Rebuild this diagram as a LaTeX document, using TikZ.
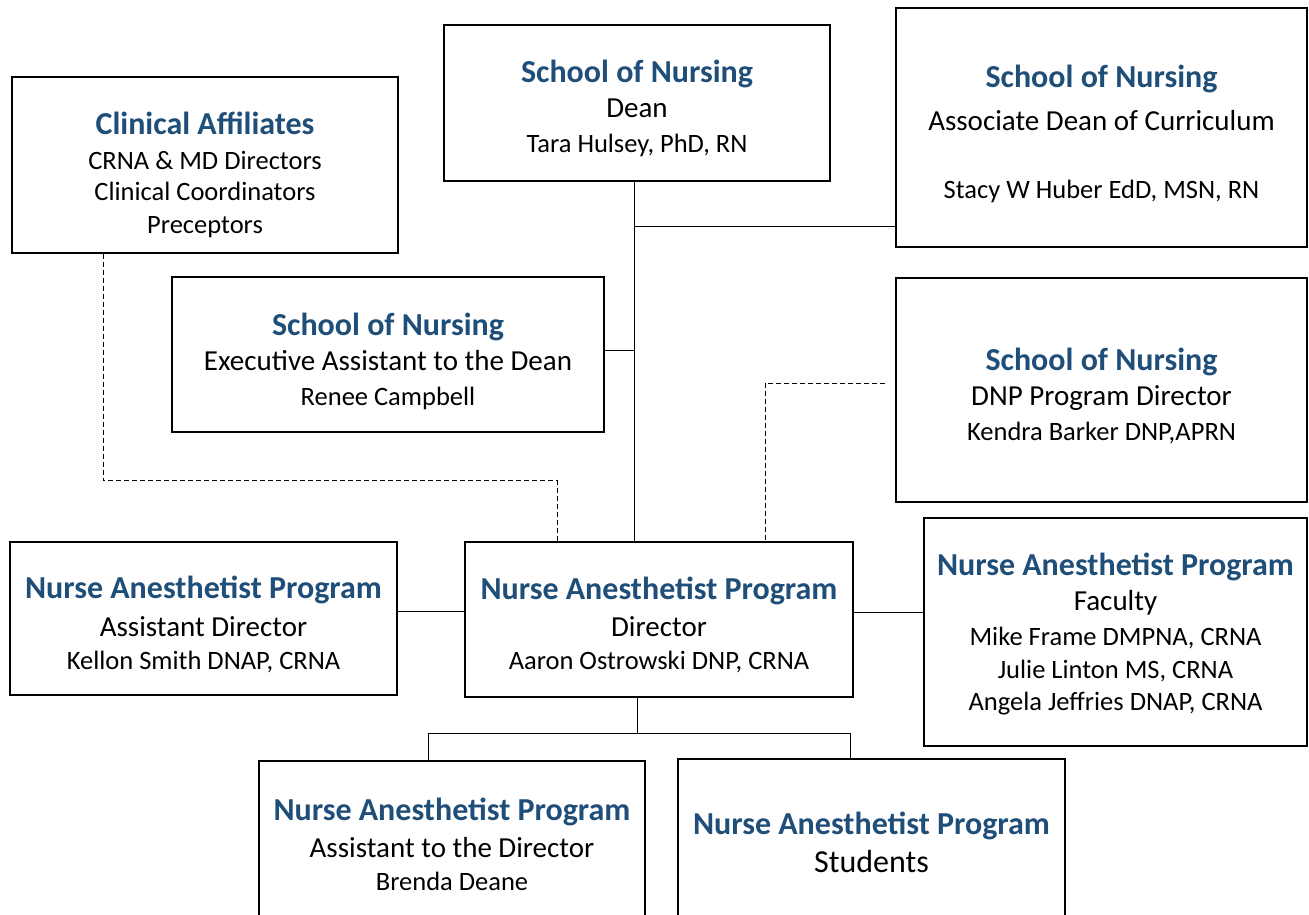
\documentclass[tikz,border=0pt]{standalone}
\usepackage{fontspec}
\setmainfont{Carlito}

\definecolor{headblue}{RGB}{31,78,121}
\newcommand{\unithead}[1]{{\fontsize{32}{38}\selectfont\bfseries\color{headblue}#1}}
\newcommand{\who}[1]{{\fontsize{26.5}{33}\selectfont #1}}

\begin{document}
\begin{tikzpicture}[x=1pt,y=-1pt,
    box/.style={draw,line width=1.4pt,inner sep=0pt},
    lines/.style={align=center,inner sep=0pt,anchor=north,font=\fontsize{29}{35}\selectfont},
    link/.style={line width=0.9pt},
    dashlink/.style={line width=0.9pt,dash pattern=on 5pt off 3pt}]
  \useasboundingbox (0,0) rectangle (1309,915);
  \clip (0,0) rectangle (1309,915);

  % boxes
  \node[box,minimum width=386pt,minimum height=176pt] (clin) at (205,165) {};
  \node[box,minimum width=386pt,minimum height=156pt] (dean) at (637,103) {};
  \node[box,minimum width=411pt,minimum height=239pt] (assoc) at (1101.5,127.5) {};
  \node[box,minimum width=432pt,minimum height=155pt] (exec) at (388,354.5) {};
  \node[box,minimum width=411pt,minimum height=224pt] (dnp) at (1101.5,390) {};
  \node[box,minimum width=387pt,minimum height=153pt] (adir) at (203.5,618.5) {};
  \node[box,minimum width=388pt,minimum height=155pt] (dir) at (659,619.5) {};
  \node[box,minimum width=383pt,minimum height=228pt] (fac) at (1115.5,632) {};
  \node[box,minimum width=386pt,minimum height=164pt] (asst) at (452,843) {};
  \node[box,minimum width=387pt,minimum height=166pt] (stud) at (871.5,842) {};

  % texts
  \node[lines] (clinT) at ([yshift=-35pt]clin.north)
    {\unithead{Clinical Affiliates}\\ \who{CRNA \& MD Directors}\\[-4pt] \who{Clinical Coordinators}\\[-2pt] \who{Preceptors}};
  \node[lines] (deanT) at ([yshift=-36pt]dean.north)
    {\unithead{School of Nursing}\\ Dean\\ \who{Tara Hulsey, PhD, RN}};
  \node[lines] (assocT) at ([yshift=-58pt]assoc.north)
    {\unithead{School of Nursing}\\[8pt] Associate Dean of Curriculum\\[33pt] \who{Stacy W Huber EdD, MSN, RN}};
  \node[lines] (execT) at ([yshift=-37pt]exec.north)
    {\unithead{School of Nursing}\\ Executive Assistant to the Dean\\ \who{Renee Campbell}};
  \node[lines] (dnpT) at ([yshift=-71pt]dnp.north)
    {\unithead{School of Nursing}\\ DNP Program Director\\ \who{Kendra Barker DNP,APRN}};
  \node[lines] (adirT) at ([yshift=-34pt]adir.north)
    {\unithead{Nurse Anesthetist Program}\\[3pt] Assistant Director\\[-2pt] \who{Kellon Smith DNAP, CRNA}};
  \node[lines] (dirT) at ([yshift=-35pt]dir.north)
    {\unithead{Nurse Anesthetist Program}\\[2pt] Director\\[-2pt] \who{Aaron Ostrowski DNP, CRNA}};
  \node[lines] (facT) at ([yshift=-35pt]fac.north)
    {\unithead{Nurse Anesthetist Program}\\ Faculty\\ \who{Mike Frame DMPNA, CRNA}\\[-2pt] \who{Julie Linton MS, CRNA}\\[-3pt] \who{Angela Jeffries DNAP, CRNA}};
  \node[lines] (asstT) at ([yshift=-37pt]asst.north)
    {\unithead{Nurse Anesthetist Program}\\[2pt] Assistant to the Director\\[-2pt] \who{Brenda Deane}};
  \node[lines] (studT) at ([yshift=-53pt]stud.north)
    {\unithead{Nurse Anesthetist Program}\\[3pt] {\fontsize{32}{38}\selectfont Students}};

  % solid lines
  \coordinate (trunk) at (634,226);
  \draw[link] (trunk |- dean.south) -- (trunk |- dir.north);
  \draw[link] (trunk) -- (trunk -| assoc.west);
  \draw[link] ([yshift=4pt]exec.east) -- ([yshift=4pt]exec.east -| trunk);
  \draw[link] ([yshift=7pt]adir.east) -- ([yshift=7pt]adir.east -| dir.west);
  \draw[link] ([yshift=7pt]dir.east) -- ([yshift=7pt]dir.east -| fac.west);
  \draw[link] ([xshift=-22pt]dir.south) -- ++(0,36) coordinate (fork);
  \draw[link] ([xshift=-24pt]asst.north) |- (fork) -| ([xshift=-21.5pt]stud.north);

  % dotted lines
  \draw[dashlink] ([xshift=-102pt]clin.south) -- ++(0,227) -| ([xshift=-102pt]dir.north);
  \draw[dashlink] ([xshift=-10pt,yshift=7pt]dnp.west) -| ([xshift=106pt]dir.north);
\end{tikzpicture}
\end{document}
